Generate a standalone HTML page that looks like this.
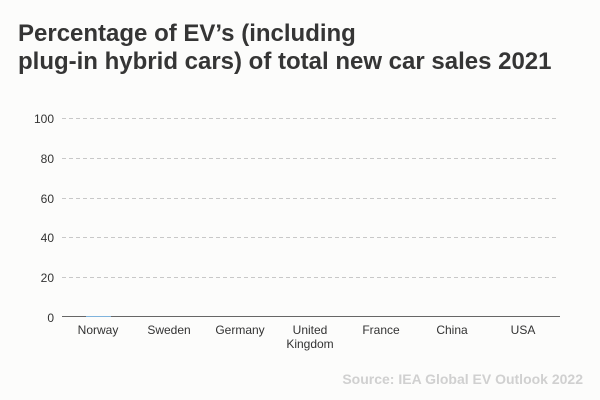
<!DOCTYPE html>
<html>
<head>
<meta charset="utf-8">
<style>
  html, body { margin:0; padding:0; }
  body { width:600px; height:400px; background:#fcfcfb; overflow:hidden; }
  svg { display:block; }
  .title { font-family:"Liberation Sans", Arial, sans-serif; font-weight:bold; font-size:24px; fill:#353535; }
  .tick { font-family:"Liberation Sans", Arial, sans-serif; font-size:12px; fill:#333; }
  .src { font-family:"Liberation Sans", Arial, sans-serif; font-weight:bold; font-size:14px; fill:#d0d0d0; }
</style>
</head>
<body>
<svg width="600" height="400" viewBox="0 0 600 400" xmlns="http://www.w3.org/2000/svg">
  <rect width="600" height="400" fill="#fcfcfb"/>
  <text class="title" x="18" y="41">Percentage of EV’s (including</text>
  <text class="title" x="18" y="69">plug-in hybrid cars) of total new car sales 2021</text>

  <g stroke="#c8c8c8" stroke-width="1" stroke-dasharray="4,3">
    <line x1="62" y1="118.5" x2="558" y2="118.5"/>
    <line x1="62" y1="158.5" x2="558" y2="158.5"/>
    <line x1="62" y1="198.5" x2="558" y2="198.5"/>
    <line x1="62" y1="237.5" x2="558" y2="237.5"/>
    <line x1="62" y1="277.5" x2="558" y2="277.5"/>
  </g>

  <g class="tick" text-anchor="end">
    <text x="54" y="123">100</text>
    <text x="54" y="163">80</text>
    <text x="54" y="203">60</text>
    <text x="54" y="242">40</text>
    <text x="54" y="282">20</text>
    <text x="54" y="322">0</text>
  </g>

  <line x1="62" y1="316.5" x2="560" y2="316.5" stroke="#666" stroke-width="1"/>
  <line x1="86" y1="316.5" x2="111" y2="316.5" stroke="#7fb3dc" stroke-width="1"/>

  <g class="tick" text-anchor="middle">
    <text x="98" y="334">Norway</text>
    <text x="169" y="334">Sweden</text>
    <text x="240" y="334">Germany</text>
    <text x="310" y="334">United</text>
    <text x="310" y="348">Kingdom</text>
    <text x="381" y="334">France</text>
    <text x="452" y="334">China</text>
    <text x="523" y="334">USA</text>
  </g>

  <text class="src" x="583" y="384" text-anchor="end">Source: IEA Global EV Outlook 2022</text>
</svg>
</body>
</html>
